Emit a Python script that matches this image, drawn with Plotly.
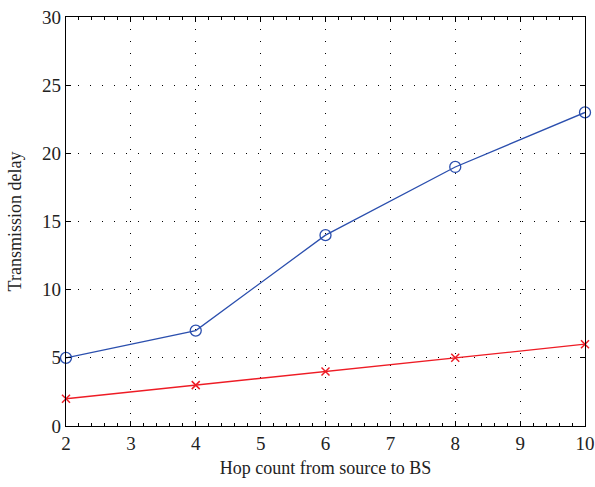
import plotly.graph_objects as go

hops = [2, 4, 6, 8, 10]
delay_blue = [5, 7, 14, 19, 23]
delay_red = [2, 3, 4, 5, 6]
x_ticks = [2, 3, 4, 5, 6, 7, 8, 9, 10]
y_ticks = [0, 5, 10, 15, 20, 25, 30]

FONT = "Liberation Serif"

fig = go.Figure()
fig.add_trace(go.Scatter(
    x=hops, y=delay_blue, mode="lines+markers",
    line=dict(color="#2b4fae", width=1.3),
    marker=dict(symbol="circle-open", size=11, color="#2b4fae", line=dict(width=1.3)),
    showlegend=False, cliponaxis=False))
fig.add_trace(go.Scatter(
    x=hops, y=delay_red, mode="lines+markers",
    line=dict(color="#ee1c25", width=1.3),
    marker=dict(symbol="x-thin-open", size=8, color="#ee1c25", line=dict(width=1.5, color="#ee1c25")),
    showlegend=False, cliponaxis=False))

axis_common = dict(
    showline=True, linecolor="black", linewidth=1.3, mirror="allticks",
    ticks="inside", ticklen=5, tickwidth=1, tickcolor="black",
    showgrid=True, gridcolor="black", gridwidth=1, griddash="1px,11px",
    zeroline=False, automargin=False,
    tickfont=dict(family=FONT, size=19, color="#222"),
)

fig.update_xaxes(
    range=[2, 10], tickvals=x_ticks, ticktext=[str(v) for v in x_ticks],
    title=dict(text="Hop count from source to BS", font=dict(family=FONT, size=18, color="#222"), standoff=8),
    minor=dict(dtick=0.2, ticks="inside", ticklen=2.5, tickcolor="black", showgrid=False),
    **axis_common)
fig.update_yaxes(
    range=[0, 30], tickvals=y_ticks, ticktext=[str(v) for v in y_ticks],
    title=dict(text="Transmission delay", font=dict(family=FONT, size=18, color="#222")),
    **axis_common)

fig.update_layout(
    width=595, height=487,
    margin=dict(l=66, r=10, t=17, b=61),
    plot_bgcolor="white", paper_bgcolor="white",
)

fig.write_html("out.html", config={"displayModeBar": False},
               post_script="document.body.style.margin='0';document.body.style.overflow='hidden';")
